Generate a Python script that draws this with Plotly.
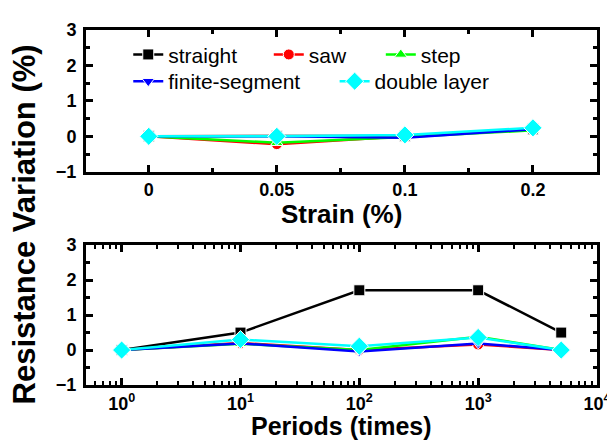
import plotly.graph_objects as go

FONT = "Arial, Liberation Sans, sans-serif"

# ---- data ----
series_names = ["straight", "saw", "step", "finite-segment", "double layer"]
series_colors = ["#000000", "#FF0000", "#00FF00", "#0000FF", "#00FFFF"]
series_symbols = ["square", "circle", "triangle-up", "triangle-down", "diamond"]
series_sizes = [11, 11, 11, 11, 14]

strain_labels = ["0", "0.05", "0.1", "0.2"]
strain_straight = [0.0, 0.0, 0.02, 0.2]
strain_saw = [0.0, -0.22, 0.0, 0.2]
strain_step = [0.0, -0.18, -0.02, 0.17]
strain_finite = [0.0, 0.0, -0.04, 0.2]
strain_double = [0.0, 0.0, 0.04, 0.24]

periods = [1, 10, 100, 1000, 5000]
period_straight = [0.0, 0.5, 1.71, 1.71, 0.5]
period_saw = [0.0, 0.2, 0.0, 0.16, 0.0]
period_step = [0.0, 0.18, 0.0, 0.38, 0.0]
period_finite = [0.0, 0.19, -0.04, 0.19, 0.0]
period_double = [0.0, 0.3, 0.11, 0.36, 0.0]

period_tickvals = [1, 10, 100, 1000, 10000]
period_ticktext = ["10<sup>0</sup>", "10<sup>1</sup>", "10<sup>2</sup>", "10<sup>3</sup>", "10<sup>4</sup>"]
y_tickvals = [-1, 0, 1, 2, 3]

strain_data = [strain_straight, strain_saw, strain_step, strain_finite, strain_double]
period_data = [period_straight, period_saw, period_step, period_finite, period_double]

# legend text positions (pixels) for each entry
legend_text_x = [161, 304, 418, 161, 371]
legend_row_y = [44, 44, 44, 71, 71]

W, H = 615, 440
ML, MR, MT, MB = 78, 17, 19, 63
PW = W - ML - MR
PH = H - MT - MB


def px_x(p):
    return (p - ML) / PW


def px_y(p):
    return (H - MB - p) / PH


fig = go.Figure()
strain_x = list(range(len(strain_labels)))

for i, name in enumerate(series_names):
    lg = "legend" if i == 0 else f"legend{i+1}"
    marker = dict(symbol=series_symbols[i], size=series_sizes[i],
                  color=series_colors[i], line=dict(color="white", width=1))
    fig.add_trace(go.Scatter(x=strain_x, y=strain_data[i], mode="lines+markers", name=name,
                             line=dict(color=series_colors[i], width=2.5), marker=marker,
                             xaxis="x", yaxis="y", legend=lg, showlegend=True))
for i, name in enumerate(series_names):
    marker = dict(symbol=series_symbols[i], size=series_sizes[i],
                  color=series_colors[i], line=dict(color="white", width=1))
    fig.add_trace(go.Scatter(x=periods, y=period_data[i], mode="lines+markers", name=name,
                             line=dict(color=series_colors[i], width=2.5), marker=marker,
                             xaxis="x2", yaxis="y2", showlegend=False))

axis_common = dict(showline=True, linecolor="black", linewidth=3, mirror="ticks",
                   ticks="inside", ticklen=7, tickwidth=2.5, tickcolor="black",
                   showgrid=False, zeroline=False)
tickfont = dict(family=FONT, size=18, color="black", weight="bold")
titlefont = dict(family=FONT, size=26, color="black", weight="bold")
minor_y = dict(ticks="inside", ticklen=4, tickwidth=2.5, tickcolor="black", dtick=0.5, tick0=0.5)

legends = {}
for i in range(len(series_names)):
    key = "legend" if i == 0 else f"legend{i+1}"
    legends[key] = dict(x=px_x(legend_text_x[i] - 40), xanchor="left",
                        y=px_y(legend_row_y[i]), yanchor="middle",
                        orientation="h", bgcolor="rgba(0,0,0,0)", borderwidth=0,
                        font=dict(family=FONT, size=21, color="black"))

fig.update_layout(
    width=W, height=H, margin=dict(l=ML, r=MR, t=MT, b=MB),
    paper_bgcolor="white", plot_bgcolor="white",
    font=dict(family=FONT, color="black"),
    xaxis=dict(**axis_common, anchor="y", domain=[0, 1], range=[-0.49, 3.5],
               tickmode="array", tickvals=strain_x, ticktext=strain_labels, tickfont=tickfont,
               minor=dict(ticks="inside", ticklen=4, tickwidth=2.5, tickcolor="black", dtick=0.5, tick0=0.5)),
    yaxis=dict(**axis_common, anchor="x", domain=[px_y(162), 1], range=[-1, 3],
               tickmode="array", tickvals=y_tickvals, tickfont=tickfont, minor=minor_y,
               ticklabelstandoff=3),
    xaxis2=dict(**axis_common, anchor="y2", domain=[0, 1], type="log", range=[-0.3, 4],
                tickmode="array", tickvals=period_tickvals, ticktext=period_ticktext, tickfont=tickfont,
                minor=dict(ticks="inside", ticklen=4, tickwidth=2, tickcolor="black", dtick="D1")),
    yaxis2=dict(**axis_common, anchor="x2", domain=[0, px_y(236)], range=[-1, 3],
                tickmode="array", tickvals=y_tickvals, tickfont=tickfont, minor=minor_y,
                ticklabelstandoff=3),
    annotations=[
        dict(text="Resistance Variation (%)", textangle=-90, xref="paper", yref="paper",
             x=px_x(15), y=px_y(215), xanchor="center", yanchor="middle",
             showarrow=False, font=dict(family=FONT, size=31, color="black", weight="bold")),
        dict(text="Strain (%)", xref="paper", yref="paper",
             x=0.5, y=px_y(205), xanchor="center", yanchor="middle",
             showarrow=False, font=titlefont),
        dict(text="Periods (times)", xref="paper", yref="paper",
             x=0.5, y=px_y(418), xanchor="center", yanchor="middle",
             showarrow=False, font=dict(family=FONT, size=25, color="black", weight="bold")),
    ],
    **legends,
)

fig.write_html("out.html")
